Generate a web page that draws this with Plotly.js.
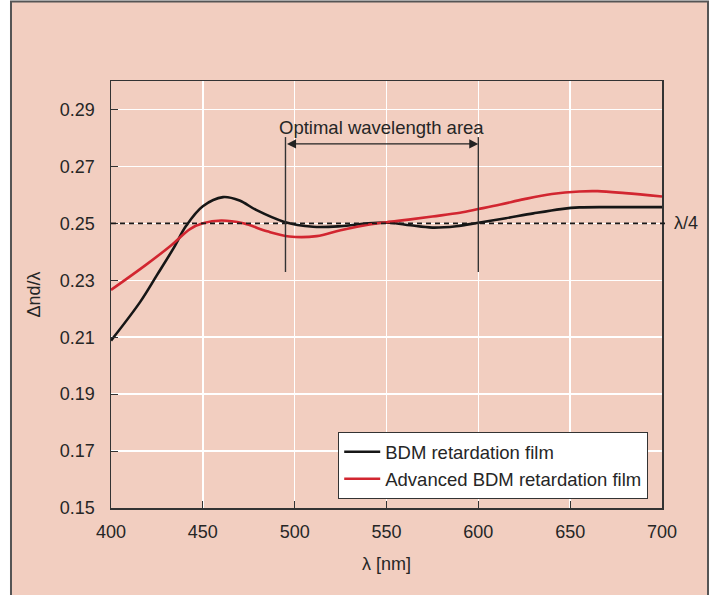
<!DOCTYPE html>
<html>
<head>
<meta charset="utf-8">
<script src="https://cdn.plot.ly/plotly-3.0.1.min.js"></script>
<style>
  html, body { margin: 0; padding: 0; background: #ffffff; }
  #chart { width: 714px; height: 595px; }
</style>
</head>
<body>
<div id="chart"></div>
<script>
// ---- data ----
const bdmWavelength = [400, 416, 425, 434, 441, 450, 461, 470, 479, 494, 510, 525, 540, 552, 563, 575, 588, 600, 615, 630, 645, 655, 675, 700];
const bdmValues     = [0.2088, 0.2225, 0.2318, 0.2412, 0.2492, 0.2560, 0.2592, 0.2580, 0.2547, 0.2506, 0.2488, 0.2490, 0.2500, 0.2502, 0.2493, 0.2485, 0.2490, 0.2502, 0.2518, 0.2535, 0.2550, 0.2556, 0.2557, 0.2557];

const advWavelength = [400, 419, 433, 443, 450, 460, 472, 485, 497, 512, 525, 540, 550, 562, 575, 590, 600, 612, 625, 640, 655, 665, 680, 700];
const advValues     = [0.2266, 0.2354, 0.2424, 0.2480, 0.2500, 0.2510, 0.2500, 0.2472, 0.2454, 0.2455, 0.2476, 0.2495, 0.2504, 0.2513, 0.2524, 0.2537, 0.2550, 0.2566, 0.2585, 0.2603, 0.2612, 0.2613, 0.2606, 0.2594];

const seriesNames = ["BDM retardation film", "Advanced BDM retardation film"];
const xTicks = [400, 450, 500, 550, 600, 650, 700];
const yTicks = [0.15, 0.17, 0.19, 0.21, 0.23, 0.25, 0.27, 0.29];
const yTickText = ["0.15", "0.17", "0.19", "0.21", "0.23", "0.25", "0.27", "0.29"];
const quarterWave = 0.25;
const optimalRange = [495, 600];
const optimalLabel = "Optimal wavelength area";

// ---- layout ----
const xRange = [400, 700];
const yRange = [0.15, 0.30];
const yPaper = v => (v - yRange[0]) / (yRange[1] - yRange[0]);
const FONT = '"Liberation Sans", Arial, sans-serif';
const TXT = '#262626';
const FS = 18;

const traces = [
  { x: bdmWavelength, y: bdmValues, name: seriesNames[0], type: 'scatter', mode: 'lines',
    line: { color: '#161616', width: 2.6, shape: 'spline', smoothing: 1 } },
  { x: advWavelength, y: advValues, name: seriesNames[1], type: 'scatter', mode: 'lines',
    line: { color: '#d22630', width: 2.6, shape: 'spline', smoothing: 1 } }
];

const shapes = [
  { type: 'rect', layer: 'below', xref: 'paper', yref: 'paper',
    x0: -0.1815, x1: 1.0835, y0: -0.25, y1: 1.186,
    fillcolor: '#f2cec0', line: { color: '#555555', width: 2 } },
  { type: 'line', xref: 'paper', yref: 'paper', x0: 0, x1: 1.011,
    y0: yPaper(quarterWave), y1: yPaper(quarterWave),
    line: { color: '#1a1a1a', width: 1.8, dash: '5px,4px' } },
  { type: 'line', xref: 'x', yref: 'y', x0: optimalRange[0], x1: optimalRange[0], y0: 0.2329, y1: 0.2803,
    line: { color: '#333333', width: 1.4 } },
  { type: 'line', xref: 'x', yref: 'y', x0: optimalRange[1], x1: optimalRange[1], y0: 0.2329, y1: 0.2803,
    line: { color: '#333333', width: 1.4 } }
];

const annotations = [
  { x: optimalRange[1], y: 0.2779, ax: optimalRange[0], ay: 0.2779, axref: 'x', ayref: 'y',
    xref: 'x', yref: 'y', text: '', showarrow: true, arrowside: 'end+start',
    arrowhead: 2, arrowsize: 1.4, arrowwidth: 1.3, arrowcolor: '#222222', standoff: 0, startstandoff: 0 },
  { x: (optimalRange[0] + optimalRange[1]) / 2, y: 0.2838, xref: 'x', yref: 'y',
    text: optimalLabel, showarrow: false, font: { family: FONT, size: 18.5, color: TXT } },
  { x: 1.018, y: quarterWave, xref: 'paper', yref: 'y', xanchor: 'left', yanchor: 'middle',
    text: 'λ/4', showarrow: false, font: { family: FONT, size: FS, color: TXT } }
];

const layout = {
  width: 714, height: 595,
  margin: { l: 111, r: 52, t: 81, b: 87 },
  paper_bgcolor: 'rgba(0,0,0,0)',
  plot_bgcolor: '#d2d3d5',
  font: { family: FONT, size: FS, color: TXT },
  showlegend: true,
  legend: {
    x: 0.412, y: 0.178, xanchor: 'left', yanchor: 'top',
    bgcolor: '#ffffff', bordercolor: '#333333', borderwidth: 1.2,
    font: { family: FONT, size: 18.5, color: TXT },
    itemwidth: 36, tracegroupgap: 0
  },
  xaxis: {
    range: xRange, tickvals: xTicks, ticktext: xTicks.map(String),
    showgrid: true, gridcolor: '#ffffff', gridwidth: 1.5,
    showline: true, linecolor: '#333333', linewidth: 1.5, mirror: true,
    ticks: 'inside', ticklen: 7, tickcolor: '#333333', tickwidth: 1,
    ticklabelstandoff: 7,
    zeroline: false,
    tickfont: { family: FONT, size: FS, color: TXT },
    title: { text: 'λ [nm]', font: { family: FONT, size: FS, color: TXT }, standoff: 16 }
  },
  yaxis: {
    range: yRange, tickvals: yTicks, ticktext: yTickText,
    showgrid: true, gridcolor: '#ffffff', gridwidth: 1.5,
    showline: true, linecolor: '#333333', linewidth: 1.5, mirror: true,
    ticks: 'inside', ticklen: 7, tickcolor: '#333333', tickwidth: 1,
    ticklabelstandoff: 11,
    zeroline: false,
    tickfont: { family: FONT, size: FS, color: TXT },
    title: { text: 'Δnd/λ', font: { family: FONT, size: FS, color: TXT }, standoff: 14 }
  },
  shapes: shapes,
  annotations: annotations
};

Plotly.newPlot('chart', traces, layout, { displayModeBar: false, staticPlot: true });
</script>
</body>
</html>
